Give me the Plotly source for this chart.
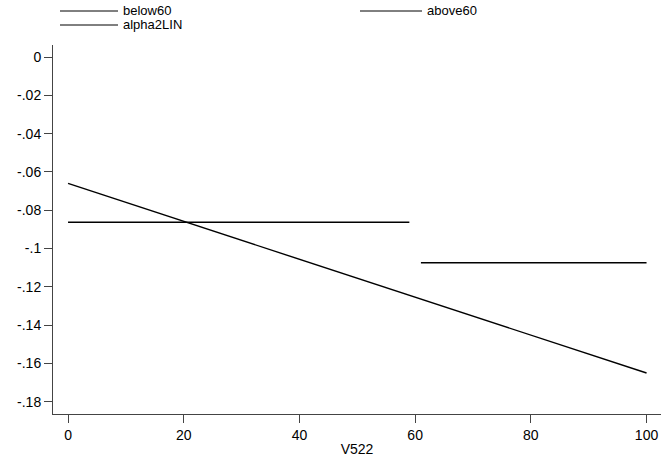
import plotly.graph_objects as go

# data
below_x = [0, 59]
below_y = [-0.0863, -0.0863]
above_x = [61, 100]
above_y = [-0.1074, -0.1074]
alpha_x = [0, 100]
alpha_y = [-0.066, -0.165]

x_ticks = [0, 20, 40, 60, 80, 100]
y_ticks = [0, -0.02, -0.04, -0.06, -0.08, -0.1, -0.12, -0.14, -0.16, -0.18]
y_labels = ["0", "-.02", "-.04", "-.06", "-.08", "-.1", "-.12", "-.14", "-.16", "-.18"]

FONT = "Liberation Sans, Arial, sans-serif"

fig = go.Figure()
fig.add_trace(go.Scatter(x=below_x, y=below_y, mode="lines", name="below60",
                         line=dict(color="black", width=1.6), showlegend=False))
fig.add_trace(go.Scatter(x=above_x, y=above_y, mode="lines", name="above60",
                         line=dict(color="black", width=1.6), showlegend=False))
fig.add_trace(go.Scatter(x=alpha_x, y=alpha_y, mode="lines", name="alpha2LIN",
                         line=dict(color="black", width=1.4), showlegend=False))

W, H = 661, 459
ml, mr, mt, mb = 53, 0, 45, 45
pw, ph = W - ml - mr, H - mt - mb

def px(x):
    return (x - ml) / pw

def py(y):
    return 1 - (y - mt) / ph

# custom legend (line sample + label)
legend_items = [("below60", 60, 118, 11), ("above60", 360, 422, 11), ("alpha2LIN", 60, 118, 25)]
for name, x0, x1, yy in legend_items:
    fig.add_shape(type="line", xref="paper", yref="paper",
                  x0=px(x0), x1=px(x1), y0=py(yy), y1=py(yy),
                  line=dict(color="black", width=1))
    fig.add_annotation(text=name, xref="paper", yref="paper", x=px(x1 + 3), y=py(yy),
                       xanchor="left", yanchor="middle", showarrow=False,
                       font=dict(family=FONT, size=13, color="black"))

fig.update_layout(
    width=W, height=H,
    margin=dict(l=ml, r=mr, t=mt, b=mb),
    paper_bgcolor="white", plot_bgcolor="white",
    font=dict(family=FONT, size=14, color="black"),
    showlegend=False,
)
fig.update_xaxes(range=[-2.6, 102.5], tickvals=x_ticks, ticks="outside", ticklen=8,
                 tickcolor="#444", showline=True, linecolor="#444", linewidth=1,
                 showgrid=False, zeroline=False, automargin=False,
                 title=dict(text="V522", standoff=2, font=dict(size=14)),
                 tickfont=dict(size=14))
fig.update_yaxes(range=[-0.1864, 0.0063], tickvals=y_ticks, ticktext=y_labels,
                 ticks="outside", ticklen=8, tickcolor="#444", showline=True,
                 linecolor="#444", linewidth=1, showgrid=False, zeroline=False,
                 automargin=False, tickfont=dict(size=14))

fig.write_html("out.html", config={"displayModeBar": False},
               post_script="document.body.style.margin='0';document.body.style.overflow='hidden';")
